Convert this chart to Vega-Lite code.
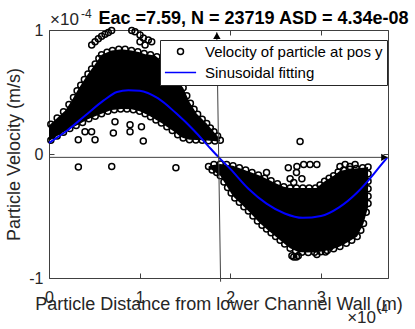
{
  "$schema": "https://vega.github.io/schema/vega-lite/v6.json",
  "width": 339,
  "height": 248,
  "autosize": {"type": "none"},
  "padding": {"left": 49, "top": 30, "right": 27, "bottom": 51},
  "background": "white",
  "config": {
    "font": "Liberation Sans",
    "view": {"stroke": "#404040", "strokeWidth": 1},
    "axis": {
      "labelFont": "Liberation Sans", "titleFont": "Liberation Sans",
      "labelColor": "#262626", "titleColor": "#262626", "tickColor": "#404040",
      "domain": false, "grid": false, "labelFontSize": 16, "titleFontSize": 18,
      "titleFontWeight": "normal", "tickSize": -5, "labelFlush": false
    }
  },
  "title": {"text": "Eac =7.59, N = 23719 ASD = 4.34e-08", "fontSize": 18, "fontWeight": "bold", "color": "#000000", "font": "Liberation Sans", "anchor": "middle", "dx": 35, "dy": 22, "offset": 2},
  "datasets": {
    "bandA": [
      {"x":0,"hi":0.23,"lo":0.105},{"x":0.09,"hi":0.29,"lo":0.145},{"x":0.18,"hi":0.35,"lo":0.185},{"x":0.25,"hi":0.43,"lo":0.21},
      {"x":0.32,"hi":0.52,"lo":0.235},{"x":0.43,"hi":0.645,"lo":0.28},{"x":0.51,"hi":0.725,"lo":0.305},{"x":0.58,"hi":0.8,"lo":0.325},
      {"x":0.69,"hi":0.835,"lo":0.355},{"x":0.8,"hi":0.845,"lo":0.362},{"x":0.91,"hi":0.835,"lo":0.36},{"x":1.0,"hi":0.82,"lo":0.345},
      {"x":1.06,"hi":0.805,"lo":0.325},{"x":1.115,"hi":0.8,"lo":0.305},{"x":1.17,"hi":0.795,"lo":0.28},{"x":1.25,"hi":0.745,"lo":0.245},
      {"x":1.28,"hi":0.725,"lo":0.23},{"x":1.39,"hi":0.615,"lo":0.175},{"x":1.45,"hi":0.56,"lo":0.14},{"x":1.48,"hi":0.535,"lo":0.13},
      {"x":1.55,"hi":0.42,"lo":0.115},{"x":1.63,"hi":0.325,"lo":0.112},{"x":1.7,"hi":0.275,"lo":0.11},{"x":1.74,"hi":0.245,"lo":0.108},
      {"x":1.81,"hi":0.185,"lo":0.105},{"x":1.87,"hi":0.135,"lo":0.1},{"x":1.89,"hi":0.1,"lo":0.1}
    ],
    "bandB": [
      {"x":1.76,"hi":-0.1,"lo":-0.11},{"x":1.79,"hi":-0.09,"lo":-0.125},{"x":1.89,"hi":-0.08,"lo":-0.175},{"x":2.03,"hi":-0.095,"lo":-0.34},
      {"x":2.18,"hi":-0.135,"lo":-0.445},{"x":2.22,"hi":-0.145,"lo":-0.475},{"x":2.33,"hi":-0.175,"lo":-0.56},{"x":2.4,"hi":-0.2,"lo":-0.605},
      {"x":2.5,"hi":-0.235,"lo":-0.665},{"x":2.59,"hi":-0.265,"lo":-0.72},{"x":2.66,"hi":-0.275,"lo":-0.76},{"x":2.75,"hi":-0.275,"lo":-0.79},
      {"x":2.84,"hi":-0.275,"lo":-0.795},{"x":2.95,"hi":-0.275,"lo":-0.792},{"x":3.03,"hi":-0.225,"lo":-0.785},{"x":3.14,"hi":-0.175,"lo":-0.765},
      {"x":3.21,"hi":-0.135,"lo":-0.745},{"x":3.3,"hi":-0.125,"lo":-0.71},{"x":3.4,"hi":-0.115,"lo":-0.665},{"x":3.47,"hi":-0.11,"lo":-0.56},
      {"x":3.52,"hi":-0.105,"lo":-0.43}
    ],
    "pts": [
      {"x":0.02,"y":0.24},{"x":0.09,"y":0.29},{"x":0.16,"y":0.34},{"x":0.22,"y":0.4},{"x":0.27,"y":0.455},{"x":0.31,"y":0.51},{"x":0.35,"y":0.555},{"x":0.39,"y":0.6},{"x":0.43,"y":0.645},{"x":0.47,"y":0.685},{"x":0.51,"y":0.725},{"x":0.55,"y":0.77},{"x":0.58,"y":0.8},{"x":0.64,"y":0.82},{"x":0.7,"y":0.835},{"x":0.77,"y":0.845},{"x":0.84,"y":0.845},{"x":0.91,"y":0.835},{"x":0.98,"y":0.825},{"x":1.05,"y":0.81},{"x":1.12,"y":0.8},{"x":1.19,"y":0.785},{"x":1.26,"y":0.74},{"x":1.33,"y":0.675},{"x":1.39,"y":0.615},{"x":1.44,"y":0.57},{"x":1.48,"y":0.535},{"x":1.52,"y":0.47},{"x":1.56,"y":0.41},{"x":1.6,"y":0.36},{"x":1.64,"y":0.32},{"x":1.69,"y":0.28},{"x":1.74,"y":0.245},{"x":1.78,"y":0.21},{"x":1.82,"y":0.18},{"x":1.86,"y":0.145},{"x":1.89,"y":0.11},
      {"x":0.02,"y":0.11},{"x":0.09,"y":0.145},{"x":0.16,"y":0.175},{"x":0.23,"y":0.205},{"x":0.3,"y":0.23},{"x":0.37,"y":0.255},{"x":0.44,"y":0.285},{"x":0.51,"y":0.305},{"x":0.58,"y":0.325},{"x":0.65,"y":0.345},{"x":0.72,"y":0.357},{"x":0.79,"y":0.362},{"x":0.86,"y":0.362},{"x":0.93,"y":0.357},{"x":1.0,"y":0.345},{"x":1.06,"y":0.325},{"x":1.12,"y":0.3},{"x":1.18,"y":0.275},{"x":1.24,"y":0.25},{"x":1.3,"y":0.22},{"x":1.36,"y":0.19},{"x":1.42,"y":0.155},{"x":1.48,"y":0.13},{"x":1.55,"y":0.115},{"x":1.62,"y":0.112},{"x":1.69,"y":0.11},{"x":1.76,"y":0.107},{"x":1.83,"y":0.104},
      {"x":1.76,"y":-0.1},{"x":1.82,"y":-0.085},{"x":1.89,"y":-0.08},{"x":1.96,"y":-0.085},{"x":2.03,"y":-0.095},{"x":2.1,"y":-0.11},{"x":2.17,"y":-0.13},{"x":2.24,"y":-0.15},{"x":2.31,"y":-0.17},{"x":2.38,"y":-0.195},{"x":2.45,"y":-0.215},{"x":2.52,"y":-0.24},{"x":2.59,"y":-0.265},{"x":2.66,"y":-0.275},{"x":2.73,"y":-0.275},{"x":2.8,"y":-0.275},{"x":2.87,"y":-0.275},{"x":2.94,"y":-0.275},{"x":2.99,"y":-0.25},{"x":3.04,"y":-0.22},{"x":3.09,"y":-0.195},{"x":3.14,"y":-0.175},{"x":3.19,"y":-0.145},{"x":3.25,"y":-0.13},{"x":3.32,"y":-0.123},{"x":3.39,"y":-0.116},{"x":3.46,"y":-0.11},{"x":3.52,"y":-0.105},
      {"x":3.52,"y":-0.16},{"x":3.52,"y":-0.22},{"x":3.52,"y":-0.28},{"x":3.52,"y":-0.34},{"x":3.52,"y":-0.4},
      {"x":3.5,"y":-0.47},{"x":3.47,"y":-0.56},{"x":3.44,"y":-0.615},{"x":3.4,"y":-0.665},{"x":3.34,"y":-0.695},{"x":3.28,"y":-0.72},{"x":3.21,"y":-0.745},{"x":3.14,"y":-0.765},{"x":3.07,"y":-0.778},{"x":3.0,"y":-0.788},{"x":2.93,"y":-0.793},{"x":2.86,"y":-0.795},{"x":2.79,"y":-0.792},{"x":2.72,"y":-0.78},{"x":2.66,"y":-0.76},{"x":2.6,"y":-0.725},{"x":2.55,"y":-0.695},{"x":2.5,"y":-0.665},{"x":2.45,"y":-0.635},{"x":2.4,"y":-0.605},{"x":2.35,"y":-0.575},{"x":2.3,"y":-0.54},{"x":2.25,"y":-0.5},{"x":2.2,"y":-0.46},{"x":2.15,"y":-0.425},{"x":2.1,"y":-0.39},{"x":2.05,"y":-0.355},{"x":2.01,"y":-0.315},{"x":1.97,"y":-0.27},{"x":1.93,"y":-0.225},{"x":1.89,"y":-0.175},{"x":1.85,"y":-0.15},{"x":1.8,"y":-0.13},
      {"x":0.471,"y":0.88},{"x":0.508,"y":0.905},{"x":0.544,"y":0.93},{"x":0.581,"y":0.95},{"x":0.618,"y":0.965},{"x":0.654,"y":0.98},{"x":0.691,"y":0.995},
      {"x":0.913,"y":0.995},{"x":0.949,"y":0.985},{"x":1.004,"y":0.96},{"x":1.041,"y":0.935},{"x":1.096,"y":0.92},{"x":1.133,"y":0.905},{"x":1.06,"y":0.88},{"x":1.004,"y":0.905},
      {"x":0.323,"y":0.115},{"x":0.508,"y":0.115},{"x":0.397,"y":0.18},{"x":0.47,"y":0.18},{"x":0.728,"y":0.26},{"x":0.71,"y":0.17},{"x":0.894,"y":0.235},{"x":0.894,"y":0.18},{"x":1.02,"y":0.22},{"x":1.04,"y":0.105},
      {"x":0.324,"y":-0.105},{"x":0.692,"y":-0.1},{"x":1.4,"y":-0.11},{"x":2.77,"y":0.1},
      {"x":2.4,"y":-0.15},{"x":2.64,"y":-0.11},{"x":2.66,"y":-0.2},{"x":2.73,"y":-0.15},{"x":2.79,"y":-0.2},{"x":2.7,"y":-0.23},{"x":2.735,"y":-0.1},{"x":2.81,"y":-0.085},{"x":2.88,"y":-0.085},{"x":2.955,"y":-0.085},{"x":3.21,"y":-0.1},{"x":3.267,"y":-0.085},{"x":3.32,"y":-0.1},{"x":3.377,"y":-0.085},
      {"x":2.68,"y":-0.82},{"x":2.73,"y":-0.83},{"x":2.7,"y":-0.83},{"x":2.75,"y":-0.82},{"x":2.955,"y":-0.81},{"x":3.05,"y":-0.79},{"x":3.1,"y":-0.75}
    ],
    "fit": [
      {"x":0,"y":0.09},{"x":0.2,"y":0.19},{"x":0.4,"y":0.31},{"x":0.6,"y":0.43},{"x":0.75,"y":0.5},{"x":0.875,"y":0.515},{"x":1.0,"y":0.51},{"x":1.2,"y":0.45},{"x":1.4,"y":0.33},{"x":1.6,"y":0.19},{"x":1.75,"y":0.07},{"x":1.87,"y":-0.025},{"x":2.0,"y":-0.12},{"x":2.2,"y":-0.28},{"x":2.4,"y":-0.4},{"x":2.6,"y":-0.48},{"x":2.8,"y":-0.515},{"x":3.0,"y":-0.5},{"x":3.2,"y":-0.43},{"x":3.4,"y":-0.31},{"x":3.55,"y":-0.19},{"x":3.65,"y":-0.1},{"x":3.73,"y":-0.03}
    ],
    "arrows": [
      {"x":0,"y":-0.027,"x2":3.74,"y2":-0.027},
      {"x":1.893,"y":-1.03,"x2":1.851,"y2":0.982}
    ],
    "heads": [
      {"x":3.7,"y":-0.027},
      {"x":1.852,"y":0.954}
    ],
    "notes": [
      {"x":0,"y":1},
      {"x":3.74,"y":-1}
    ]
  },
  "layer": [
    {
      "data": {"name": "bandA"},
      "mark": {"type": "area", "color": "#000000", "opacity": 1},
      "encoding": {
        "x": {"field": "x", "type": "quantitative", "scale": {"domain": [0, 3.74], "nice": false, "zero": false},
              "axis": {"orient": "bottom", "values": [0, 1, 2, 3], "labelExpr": "'' + datum.value", "labelPadding": 16, "title": "Particle Distance from lower Channel Wall (m)", "titlePadding": -10}},
        "y": {"field": "hi", "type": "quantitative", "scale": {"domain": [-1, 1], "nice": false, "zero": false},
              "axis": {"orient": "left", "values": [-1, 0, 1], "labelExpr": "'' + datum.value", "labelPadding": 11, "title": "Particle Velocity (m/s)", "titlePadding": 5}},
        "y2": {"field": "lo"}
      }
    },
    {
      "data": {"name": "bandB"},
      "mark": {"type": "area", "color": "#000000", "opacity": 1},
      "encoding": {
        "x": {"field": "x", "type": "quantitative", "axis": null},
        "y": {"field": "hi", "type": "quantitative", "axis": null},
        "y2": {"field": "lo"}
      }
    },
    {
      "data": {"name": "pts"},
      "mark": {"type": "point", "filled": false, "size": 36, "strokeWidth": 1.5, "opacity": 1},
      "encoding": {
        "x": {"field": "x", "type": "quantitative", "axis": {"orient": "top", "values": [0, 1, 2, 3], "labels": false, "title": null}},
        "y": {"field": "y", "type": "quantitative", "axis": {"orient": "right", "values": [-1, 0, 1], "labels": false, "title": null}},
        "color": {"datum": "Velocity of particle at pos y", "type": "nominal",
                  "scale": {"domain": ["Velocity of particle at pos y", "Sinusoidal fitting"], "range": ["#000000", "#0000ff"]},
                  "legend": {"title": null, "orient": "none", "legendX": 111, "legendY": 10, "fillColor": "white", "strokeColor": "#262626", "padding": 4, "labelFont": "Liberation Sans", "labelFontSize": 15, "labelColor": "#000000", "labelLimit": 400, "symbolSize": 36, "symbolStrokeWidth": 1.5, "symbolOffset": 9, "labelOffset": 17, "rowPadding": 5, "symbolOpacity": 1}},
        "shape": {"datum": "Velocity of particle at pos y", "type": "nominal",
                  "scale": {"domain": ["Velocity of particle at pos y", "Sinusoidal fitting"], "range": ["circle", "M-5.2,0H5.2"]},
                  "legend": {"title": null, "orient": "none", "legendX": 111, "legendY": 10, "fillColor": "white", "strokeColor": "#262626", "padding": 4, "labelFont": "Liberation Sans", "labelFontSize": 15, "labelColor": "#000000", "labelLimit": 400, "symbolSize": 36, "symbolStrokeWidth": 1.5, "symbolOffset": 9, "labelOffset": 17, "rowPadding": 5, "symbolOpacity": 1}}
      }
    },
    {
      "data": {"name": "fit"},
      "mark": {"type": "line", "strokeWidth": 2, "interpolate": "monotone"},
      "encoding": {
        "x": {"field": "x", "type": "quantitative", "axis": null},
        "y": {"field": "y", "type": "quantitative", "axis": null},
        "color": {"datum": "Sinusoidal fitting", "type": "nominal",
                  "legend": {"title": null, "orient": "none", "legendX": 111, "legendY": 10, "fillColor": "white", "strokeColor": "#262626", "padding": 4, "labelFont": "Liberation Sans", "labelFontSize": 15, "labelColor": "#000000", "labelLimit": 400, "symbolSize": 36, "symbolStrokeWidth": 1.5, "symbolOffset": 9, "labelOffset": 17, "rowPadding": 5, "symbolOpacity": 1}}
      }
    },
    {
      "data": {"name": "arrows"},
      "mark": {"type": "rule", "color": "#404040", "strokeWidth": 1, "clip": false},
      "encoding": {
        "x": {"field": "x", "type": "quantitative", "axis": null},
        "y": {"field": "y", "type": "quantitative", "axis": null},
        "x2": {"field": "x2"},
        "y2": {"field": "y2"}
      }
    },
    {
      "data": {"name": "heads"},
      "transform": [{"filter": "datum.x > 3"}],
      "mark": {"type": "point", "shape": "triangle-right", "filled": true, "color": "#000000", "size": 55, "opacity": 1, "clip": false},
      "encoding": {
        "x": {"field": "x", "type": "quantitative", "axis": null},
        "y": {"field": "y", "type": "quantitative", "axis": null}
      }
    },
    {
      "data": {"name": "heads"},
      "transform": [{"filter": "datum.x < 3"}],
      "mark": {"type": "point", "shape": "triangle-up", "filled": true, "color": "#000000", "size": 55, "opacity": 1, "clip": false},
      "encoding": {
        "x": {"field": "x", "type": "quantitative", "axis": null},
        "y": {"field": "y", "type": "quantitative", "axis": null}
      }
    },
    {
      "data": {"name": "notes"},
      "mark": {"type": "text", "text": "×10", "font": "Liberation Sans", "fontSize": 17, "color": "#262626", "align": "left", "baseline": "alphabetic", "dx": 1, "dy": -5},
      "transform": [{"filter": "datum.y > 0"}],
      "encoding": {
        "x": {"field": "x", "type": "quantitative", "axis": null},
        "y": {"field": "y", "type": "quantitative", "axis": null}
      }
    },
    {
      "data": {"name": "notes"},
      "mark": {"type": "text", "text": "-4", "font": "Liberation Sans", "fontSize": 12, "color": "#262626", "align": "left", "baseline": "alphabetic", "dx": 32, "dy": -12},
      "transform": [{"filter": "datum.y > 0"}],
      "encoding": {
        "x": {"field": "x", "type": "quantitative", "axis": null},
        "y": {"field": "y", "type": "quantitative", "axis": null}
      }
    },
    {
      "data": {"name": "notes"},
      "mark": {"type": "text", "text": "×10", "font": "Liberation Sans", "fontSize": 17, "color": "#262626", "align": "right", "baseline": "alphabetic", "dx": -12, "dy": 45},
      "transform": [{"filter": "datum.y < 0"}],
      "encoding": {
        "x": {"field": "x", "type": "quantitative", "axis": null},
        "y": {"field": "y", "type": "quantitative", "axis": null}
      }
    },
    {
      "data": {"name": "notes"},
      "mark": {"type": "text", "text": "-4", "font": "Liberation Sans", "fontSize": 12, "color": "#262626", "align": "right", "baseline": "alphabetic", "dx": 0, "dy": 35},
      "transform": [{"filter": "datum.y < 0"}],
      "encoding": {
        "x": {"field": "x", "type": "quantitative", "axis": null},
        "y": {"field": "y", "type": "quantitative", "axis": null}
      }
    }
  ],
  "resolve": {"axis": {"x": "independent", "y": "independent"}}
}
